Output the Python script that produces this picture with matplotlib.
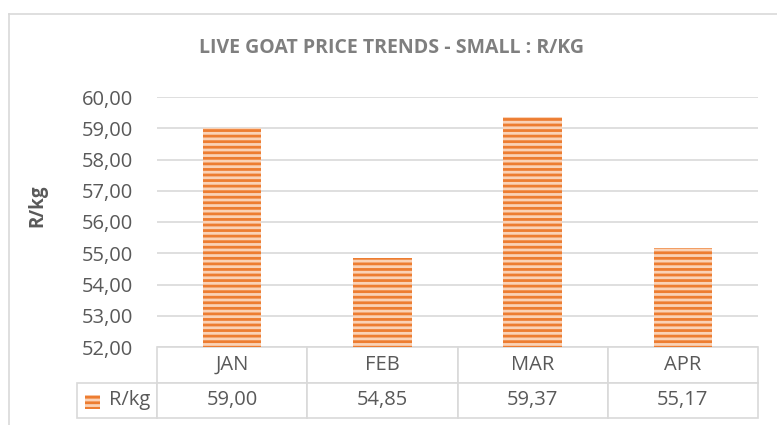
import matplotlib
matplotlib.use("Agg")
import matplotlib.pyplot as plt
from matplotlib.patches import Rectangle
from matplotlib.lines import Line2D

categories = ["JAN", "FEB", "MAR", "APR"]
values = [59.00, 54.85, 59.37, 55.17]
series_name = "R/kg"
title = "LIVE GOAT PRICE TRENDS - SMALL : R/KG"
y_ticks = [52, 53, 54, 55, 56, 57, 58, 59, 60]

ORANGE = "#ED7D31"
PEACH = "#FAD2B6"
GRID = "#D9D9D9"
TXT = "#595959"

plt.rcParams["font.family"] = ["Open Sans", "DejaVu Sans"]
plt.rcParams["hatch.linewidth"] = 2.0

W, H = 777, 425
fig = plt.figure(figsize=(W / 100, H / 100), dpi=100)

def fx(px):
    return px / W

def fy(py):
    return 1 - py / H

ax_l, ax_r, ax_t, ax_b = 157, 758, 97, 347
ax = fig.add_axes([fx(ax_l), fy(ax_b), fx(ax_r - ax_l), (ax_b - ax_t) / H])

x = list(range(len(categories)))
ax.bar(x, values, width=0.39, color=PEACH, edgecolor=ORANGE, linewidth=0,
       hatch="---", zorder=3)
ax.set_xlim(-0.5, len(categories) - 0.5)
ax.set_ylim(y_ticks[0], y_ticks[-1])
ax.set_yticks(y_ticks)
ax.set_yticklabels([f"{v:.2f}".replace(".", ",") for v in y_ticks])
ax.set_xticks([])
ax.tick_params(axis="y", length=0, pad=17, labelsize=14.5, labelcolor=TXT)
ax.grid(axis="y", color=GRID, linewidth=1.2, zorder=0)
for s in ax.spines.values():
    s.set_visible(False)
ax.set_ylabel(series_name, fontsize=13.5, fontweight="bold", color=TXT)
ax.yaxis.set_label_coords(-(157 - 47) / 601, (347 - 206) / 250)

# data table
leg_w = 80 / (ax_r - ax_l)
tbl_h = 71 / (ax_b - ax_t)
cell_text = [[""] + categories,
             [series_name] + [f"{v:.2f}".replace(".", ",") for v in values]]
tbl = ax.table(cellText=cell_text, cellLoc="center",
               bbox=[-leg_w, -tbl_h, 1 + leg_w, tbl_h])
tbl.auto_set_font_size(False)
for (r, c), cell in tbl.get_celld().items():
    cell.set_edgecolor(GRID)
    cell.set_linewidth(1.2)
    cell.get_text().set_fontsize(14.5)
    cell.get_text().set_color(TXT)
    cell.set_width(80 if c == 0 else 150.25)
    if r == 0 and c == 0:
        cell.visible_edges = ""
    if r == 1 and c == 0:
        cell.get_text().set_ha("right")
        cell._loc = "right"
        cell.PAD = 0.08

# legend key inside table
key = Rectangle((-(157 - 85) / 601, -(409 - 347) / 250), 15 / 601, 14 / 250,
                transform=ax.transAxes, facecolor=PEACH, edgecolor=ORANGE,
                linewidth=0, hatch="---", clip_on=False, zorder=5)
ax.add_patch(key)

fig.text(fx(392), fy(48), title, ha="center", va="center", fontsize=14,
         fontweight="bold", color="#7F7F7F")

# chart area border
fig.add_artist(Line2D([fx(8.5), fx(8.5)], [0, fy(13.5)], color=GRID, linewidth=1.2))
fig.add_artist(Line2D([fx(8.5), 1], [fy(13.5), fy(13.5)], color=GRID, linewidth=1.2))

fig.savefig("out.png", dpi=100)
